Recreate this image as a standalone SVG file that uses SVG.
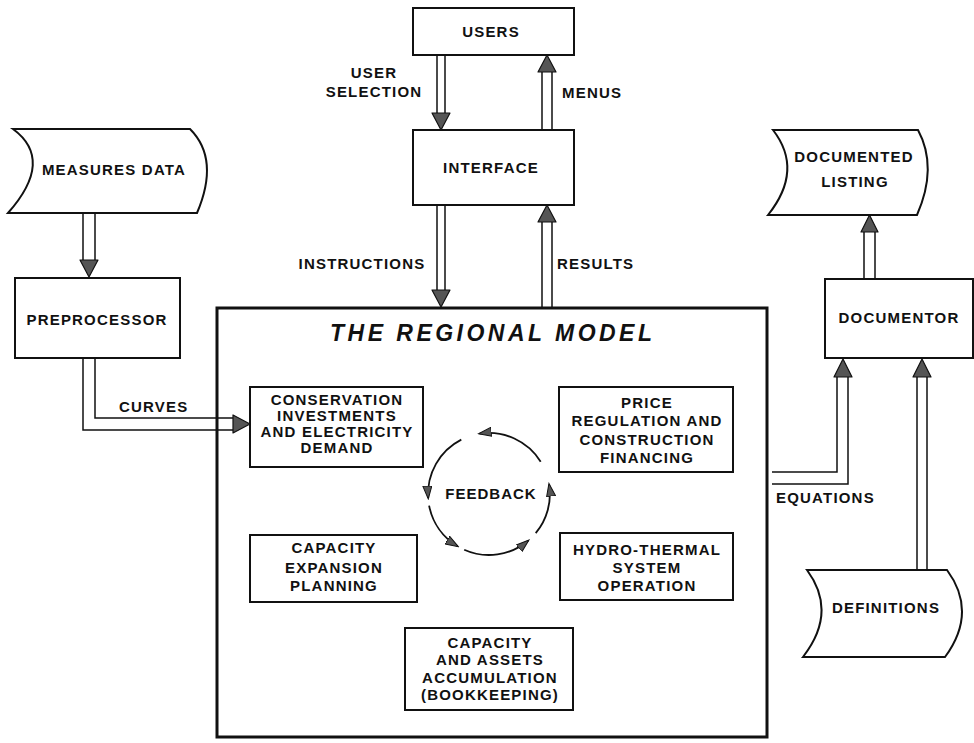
<svg xmlns="http://www.w3.org/2000/svg" width="974" height="743" viewBox="0 0 974 743">
<style>
text{font-family:"Liberation Sans",Arial,sans-serif;font-weight:bold;font-size:15px;letter-spacing:1.2px;fill:#111}
.c{text-anchor:middle}
.box{fill:#fff;stroke:#111;stroke-width:2}
.main{fill:#fff;stroke:#111;stroke-width:3}
.shaft{fill:none;stroke:#111;stroke-width:1.5}
.head{fill:#555;stroke:#111;stroke-width:1.2;stroke-linejoin:round}
.fb{fill:none;stroke:#111;stroke-width:1.8}
.title{font-style:italic;font-size:23px;letter-spacing:0}
</style>
<defs>
<marker id="fh" viewBox="0 0 14 10" refX="12" refY="5" markerWidth="14" markerHeight="10" markerUnits="userSpaceOnUse" orient="auto">
<path d="M0,0.5 L13,5 L0,9.5 Z" fill="#555" stroke="#111" stroke-width="1"/>
</marker>
</defs>

<g id="main-model">
<rect class="main" x="217" y="308" width="550" height="429"/>
<text class="title" x="330" y="341" textLength="322" lengthAdjust="spacing">THE REGIONAL MODEL</text>
</g>

<g id="users">
<rect class="box" x="413" y="8" width="161" height="47"/>
<text class="c" x="491" y="37">USERS</text>
</g>

<g id="interface">
<rect class="box" x="413" y="130" width="161" height="75"/>
<text class="c" x="491" y="173">INTERFACE</text>
</g>

<g id="measures-data">
<path class="box" d="M13,129 L190,129 Q220,159 197,213 L8,213 Q55,160 13,129 Z"/>
<text class="c" x="114" y="175">MEASURES DATA</text>
</g>

<g id="preprocessor">
<rect class="box" x="15" y="278" width="165" height="80"/>
<text class="c" x="97" y="325">PREPROCESSOR</text>
</g>

<g id="documented-listing">
<path class="box" d="M773,130 L918,130 Q938,167 917,215 L768,215 Q804,170 773,130 Z"/>
<text class="c" x="854" y="162">DOCUMENTED</text>
<text class="c" x="855" y="187">LISTING</text>
</g>

<g id="documentor">
<rect class="box" x="825" y="279" width="148" height="79"/>
<text class="c" x="899" y="323">DOCUMENTOR</text>
</g>

<g id="definitions">
<path class="box" d="M807,570 L947,570 Q978,612 945,657 L803,657 Q838,612 807,570 Z"/>
<text class="c" x="886" y="613">DEFINITIONS</text>
</g>

<g id="conservation">
<rect class="box" x="250" y="387" width="173" height="80"/>
<text class="c" x="337" y="405">CONSERVATION</text>
<text class="c" x="337" y="421">INVESTMENTS</text>
<text class="c" x="337" y="437">AND ELECTRICITY</text>
<text class="c" x="337" y="453">DEMAND</text>
</g>

<g id="price">
<rect class="box" x="559" y="387" width="174" height="85"/>
<text class="c" x="647" y="408">PRICE</text>
<text class="c" x="647" y="426">REGULATION AND</text>
<text class="c" x="647" y="445">CONSTRUCTION</text>
<text class="c" x="647" y="463">FINANCING</text>
</g>

<g id="capacity-expansion">
<rect class="box" x="250" y="535" width="167" height="67"/>
<text class="c" x="334" y="553">CAPACITY</text>
<text class="c" x="334" y="573">EXPANSION</text>
<text class="c" x="334" y="591">PLANNING</text>
</g>

<g id="hydro-thermal">
<rect class="box" x="560" y="533" width="173" height="67"/>
<text class="c" x="647" y="555">HYDRO-THERMAL</text>
<text class="c" x="647" y="573">SYSTEM</text>
<text class="c" x="647" y="591">OPERATION</text>
</g>

<g id="bookkeeping">
<rect class="box" x="405" y="628" width="168" height="82"/>
<text class="c" x="490" y="648">CAPACITY</text>
<text class="c" x="490" y="665">AND ASSETS</text>
<text class="c" x="490" y="683">ACCUMULATION</text>
<text class="c" x="490" y="700">(BOOKKEEPING)</text>
</g>

<g id="feedback">
<text class="c" x="491" y="499" style="letter-spacing:1px">FEEDBACK</text>
<path class="fb" marker-end="url(#fh)" d="M540.7,461.7 A61,61 0 0 0 479.5,433.7"/>
<path class="fb" marker-end="url(#fh)" d="M461.3,439.6 A61,61 0 0 0 428.2,498.0"/>
<path class="fb" marker-end="url(#fh)" d="M429.1,505.6 A61,61 0 0 0 457.6,546.3"/>
<path class="fb" marker-end="url(#fh)" d="M464.2,549.7 A61,61 0 0 0 528.2,540.7"/>
<path class="fb" marker-end="url(#fh)" d="M535.7,533.2 A61,61 0 0 0 549.1,484.4"/>
</g>

<g id="connectors">
<path class="shaft" d="M437,55 V113 M445,55 V113"/>
<polygon class="head" points="432,113 450,113 441,130"/>
<text class="c" x="374" y="78">USER</text>
<text class="c" x="374" y="97">SELECTION</text>
<path class="shaft" d="M542,130 V72 M552,130 V72"/>
<polygon class="head" points="538,72 556,72 547,55"/>
<text x="562" y="98">MENUS</text>
<path class="shaft" d="M437,205 V290 M445,205 V290"/>
<polygon class="head" points="432,290 450,290 441,307"/>
<text class="c" x="362" y="269">INSTRUCTIONS</text>
<path class="shaft" d="M542,307 V222 M552,307 V222"/>
<polygon class="head" points="538,222 556,222 547,205"/>
<text x="557" y="269">RESULTS</text>
<path class="shaft" d="M83,213 V260 M95,213 V260"/>
<polygon class="head" points="80,260 98,260 89,277"/>
<path class="shaft" d="M83,358 V430 H233 M95,358 V418 H233"/>
<polygon class="head" points="233,415 233,433 250,424"/>
<text x="119" y="412">CURVES</text>
<path class="shaft" d="M772,484 H848 V377 M772,472 H837 V377"/>
<polygon class="head" points="834,377 852,377 843,359"/>
<text x="776" y="503">EQUATIONS</text>
<path class="shaft" d="M917,570 V377 M927,570 V377"/>
<polygon class="head" points="913,377 931,377 922,359"/>
<path class="shaft" d="M864,279 V232 M875,279 V232"/>
<polygon class="head" points="861,232 878,232 869.5,215"/>
</g>
</svg>
